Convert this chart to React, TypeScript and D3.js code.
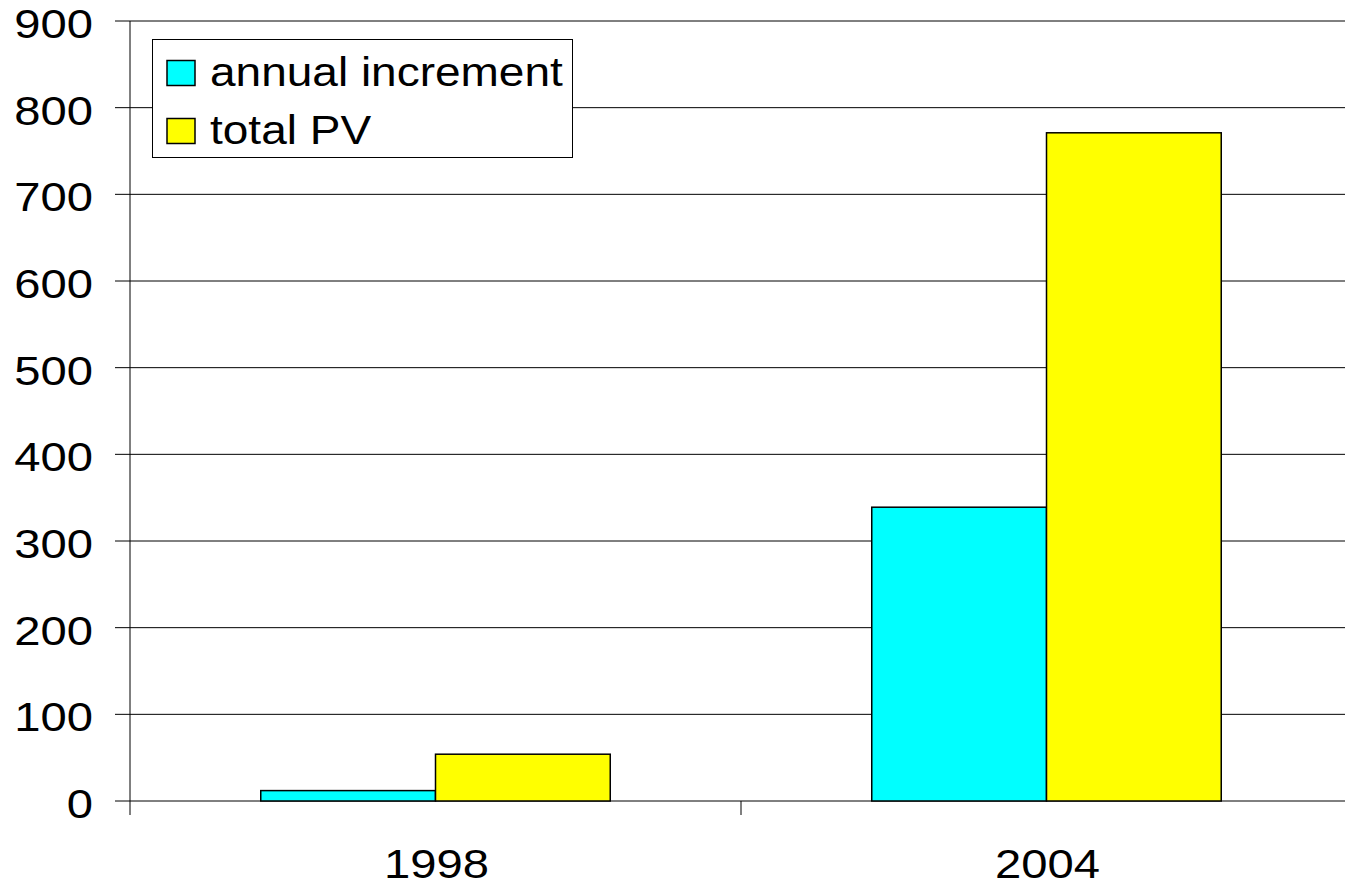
import * as d3 from 'd3';

const categories = ['1998', '2004'];
const annualIncrement = [12, 339];
const totalPV = [54, 771];
const yTicks = [0, 100, 200, 300, 400, 500, 600, 700, 800, 900];
const seriesNames = ['annual increment', 'total PV'];
const seriesColors = ['#00ffff', '#ffff00'];

const W = 1345;
const H = 886;
// plot area (right edge runs past the picture, like the original)
const left = 130;
const right = 1352;
const top = 21;
const bottom = 801;
const FONT = 'Liberation Sans, Arial, sans-serif';
const STRETCH = 1.18; // text in the original is wider than plain Arial

export default function App() {
  const x = d3.scaleBand<string>().domain(categories).range([left, right]);
  const y = d3.scaleLinear().domain([0, 900]).range([bottom, top]);
  const groupW = x.bandwidth() * 0.572;
  const inner = d3.scaleBand<number>().domain([0, 1]).range([0, groupW]);
  const series = [annualIncrement, totalPV];

  const label = (tx: number, ty: number, text: string, anchor: string) => (
    <text
      transform={`translate(${tx},${ty}) scale(${STRETCH},1)`}
      textAnchor={anchor}
      fontFamily={FONT}
      fontSize={40}
      fill="#000"
    >
      {text}
    </text>
  );

  return (
    <svg width={W} height={H} style={{ position: 'absolute', left: 0, top: 0, background: '#fff' }}>
      <rect width={W} height={H} fill="#fff" />
      {/* gridlines + y ticks */}
      {yTicks.map(t => (
        <g key={t}>
          <line x1={left - 15} x2={right} y1={y(t)} y2={y(t)} stroke="#000" strokeWidth={1} />
          {label(93, y(t) + 17, String(t), 'end')}
        </g>
      ))}
      {/* y axis */}
      <line x1={left} x2={left} y1={y(900)} y2={bottom + 14} stroke="#000" strokeWidth={1} />
      {/* x ticks at category boundaries */}
      {categories.map(c => (
        <line key={c} x1={(x(c) ?? 0) + x.bandwidth()} x2={(x(c) ?? 0) + x.bandwidth()} y1={bottom} y2={bottom + 14} stroke="#000" strokeWidth={1} />
      ))}
      {/* bars */}
      {categories.map((c, i) => {
        const gx = (x(c) ?? 0) + (x.bandwidth() - groupW) / 2;
        return (
          <g key={c}>
            {series.map((s, j) => (
              <rect
                key={j}
                x={gx + (inner(j) ?? 0)}
                y={y(s[i])}
                width={inner.bandwidth()}
                height={bottom - y(s[i])}
                fill={seriesColors[j]}
                stroke="#000"
                strokeWidth={1.5}
              />
            ))}
          </g>
        );
      })}
      {/* x labels */}
      {categories.map(c => (
        <g key={c}>{label((x(c) ?? 0) + x.bandwidth() / 2 + 1, 878, c, 'middle')}</g>
      ))}
      {/* legend */}
      <rect x={152.5} y={39.5} width={420} height={118} fill="#fff" stroke="#000" strokeWidth={1} />
      {seriesNames.map((n, j) => (
        <g key={n}>
          <rect x={167} y={60.5 + j * 58} width={28} height={25} fill={seriesColors[j]} stroke="#000" strokeWidth={1.5} />
          <text
            transform={`translate(210,${86 + j * 58}) scale(1.15,1)`}
            fontFamily={FONT}
            fontSize={40}
            fill="#000"
          >
            {n}
          </text>
        </g>
      ))}
    </svg>
  );
}
